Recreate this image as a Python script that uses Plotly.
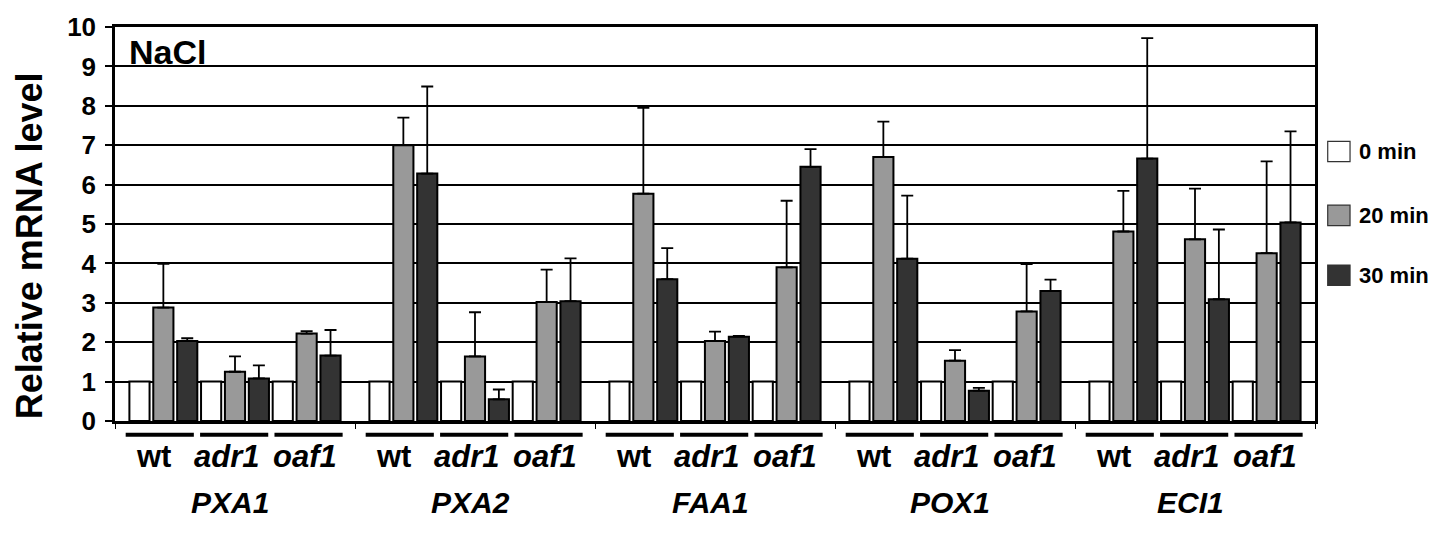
import plotly.graph_objects as go

genes = ["PXA1", "PXA2", "FAA1", "POX1", "ECI1"]
strains = ["wt", "adr1", "oaf1"]
series_names = ["0 min", "20 min", "30 min"]

# values ordered gene-major, strain-minor (wt, adr1, oaf1)
min0 = [1, 1, 1, 1, 1, 1, 1, 1, 1, 1, 1, 1, 1, 1, 1]
min20 = [2.88, 1.25, 2.22, 7.00, 1.64, 3.02, 5.77, 2.03, 3.90, 6.70, 1.53, 2.78, 4.81, 4.61, 4.26]
min20_err = [1.11, 0.39, 0.06, 0.70, 1.12, 0.82, 2.18, 0.24, 1.69, 0.90, 0.27, 1.20, 1.03, 1.29, 2.33]
min30 = [2.03, 1.08, 1.66, 6.28, 0.55, 3.04, 3.60, 2.14, 6.45, 4.12, 0.77, 3.30, 6.66, 3.09, 5.04]
min30_err = [0.07, 0.33, 0.65, 2.21, 0.25, 1.09, 0.79, 0.02, 0.45, 1.60, 0.07, 0.29, 3.06, 1.77, 2.31]

colors = ["#ffffff", "#999999", "#333333"]
FONT = "Arial, Liberation Sans, sans-serif"

PITCH = 0.0995
BAR_W = 0.084


def positions(t):
    xs = []
    for g in range(len(genes)):
        for s in range(len(strains)):
            xs.append(g + (s * 3 + t - 4) * PITCH)
    return xs


fig = go.Figure()
all_vals = [min0, min20, min30]
all_errs = [None, min20_err, min30_err]
for t in range(3):
    kw = {}
    if all_errs[t] is not None:
        kw["error_y"] = dict(type="data", array=all_errs[t], arrayminus=[0] * len(all_errs[t]),
                             symmetric=False, color="black", thickness=1.8, width=6)
    fig.add_trace(go.Bar(
        x=positions(t), y=all_vals[t], width=BAR_W, name=series_names[t],
        marker=dict(color=colors[t], line=dict(color="black", width=2)),
        showlegend=False, **kw))

annotations = []
shapes = []

# strain underline bars and labels
line_off = [-0.31, 0.0, 0.31]
label_off = [-0.34, -0.037, 0.29]
for g in range(len(genes)):
    for s, st in enumerate(strains):
        c = g - 0.0035 + line_off[s]
        shapes.append(dict(type="line", xref="x", yref="paper",
                           x0=c - 0.142, x1=c + 0.142, y0=-0.0346, y1=-0.0346,
                           line=dict(color="black", width=4)))
        txt = "<b>wt</b>" if st == "wt" else f"<b><i>{st}</i></b>"
        annotations.append(dict(x=g + label_off[s], y=-0.089, xref="x", yref="paper",
                                text=txt, showarrow=False, xanchor="center", yanchor="middle",
                                font=dict(family=FONT, size=31, color="black")))
    annotations.append(dict(x=g - 0.02, y=-0.207, xref="x", yref="paper",
                            text=f"<b><i>{genes[g]}</i></b>", showarrow=False,
                            xanchor="center", yanchor="middle",
                            font=dict(family=FONT, size=30, color="black")))

# y title
annotations.append(dict(x=-0.0715, y=0.444, xref="paper", yref="paper",
                        text="<b>Relative mRNA level</b>", textangle=-90, showarrow=False,
                        xanchor="center", yanchor="middle",
                        font=dict(family=FONT, size=36, color="black")))
# NaCl
annotations.append(dict(x=0.010, y=0.936, xref="paper", yref="paper",
                        text="<b>NaCl</b>", showarrow=False, xanchor="left", yanchor="middle",
                        font=dict(family=FONT, size=34, color="black")))

# manual legend
leg_y = [0.684, 0.522, 0.370]
sq_h = 21 / 405
for t in range(3):
    shapes.append(dict(type="rect", xref="paper", yref="paper",
                       x0=1.0106, x1=1.0292, y0=leg_y[t] - sq_h / 2, y1=leg_y[t] + sq_h / 2,
                       fillcolor=colors[t], line=dict(color="#333333", width=1.2)))
    annotations.append(dict(x=1.035, y=leg_y[t], xref="paper", yref="paper",
                            text=f"<b>{series_names[t]}</b>", showarrow=False,
                            xanchor="left", yanchor="middle",
                            font=dict(family=FONT, size=22, color="black")))

fig.update_layout(
    width=1437, height=546,
    margin=dict(l=115, r=122, t=16, b=125),
    paper_bgcolor="white", plot_bgcolor="white",
    barmode="overlay",
    showlegend=False,
    annotations=annotations,
    shapes=shapes,
    xaxis=dict(range=[-0.5, 4.5], tickvals=[-0.5, 0.5, 1.5, 2.5, 3.5, 4.5],
               ticktext=["", "", "", "", "", ""], ticks="outside", ticklen=5, tickwidth=1,
               tickcolor="black", showgrid=False, zeroline=False,
               showline=True, linecolor="black", linewidth=2.5, mirror=True),
    yaxis=dict(range=[0, 10], dtick=1, tick0=0, ticks="outside", ticklen=7, tickwidth=1.5,
               tickcolor="black", showgrid=True, gridcolor="black", gridwidth=1.5,
               zeroline=False, showline=True, linecolor="black", linewidth=2.5, mirror=True,
               tickfont=dict(family=FONT, size=26, color="black", weight="bold"),
               ticklabelstandoff=4),
)

fig.write_html("out.html")
